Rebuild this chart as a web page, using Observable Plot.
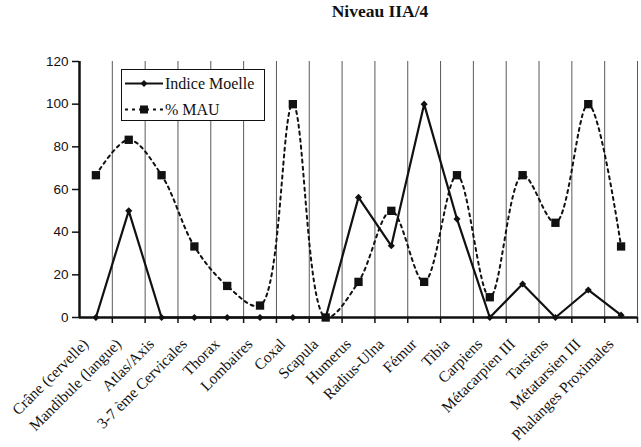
<!DOCTYPE html>
<html><head><meta charset="utf-8">
<script src="https://cdn.jsdelivr.net/npm/d3@7"></script>
<script src="https://cdn.jsdelivr.net/npm/@observablehq/plot@0.6"></script>
<style>
body{margin:0;background:#fff;}
#wrap{position:relative;width:641px;height:447px;overflow:hidden;}
#title{height:24px;width:760px;text-align:center;font:bold 17.5px 'Liberation Serif',serif;line-height:20px;padding-top:1px;box-sizing:border-box;color:#111;}
#legend{position:absolute;left:0;top:0;pointer-events:none;}
.lgtext{position:absolute;left:165px;font:16px 'Liberation Serif',serif;line-height:16px;color:#111;white-space:nowrap;}
</style></head>
<body><div id="wrap"><div id="title">Niveau IIA/4</div><div id="chart"></div></div>
<script>
const categories = ["Crâne (cervelle)", "Mandibule (langue)", "Atlas/Axis", "3-7 ème Cervicales", "Thorax", "Lombaires", "Coxal", "Scapula", "Humerus", "Radius-Ulna", "Fémur", "Tibia", "Carpiens", "Métacarpien III", "Tarsiens", "Métatarsien III", "Phalanges Proximales"];
const indiceMoelle = [0, 50, 0, 0, 0, 0, 0, 0, 56.3, 33.6, 100, 46.2, 0, 15.7, 0, 12.9, 1.1];
const mau = [66.7, 83.3, 66.7, 33.3, 14.8, 5.6, 100, 0, 16.7, 50, 16.7, 66.7, 9.5, 66.7, 44.4, 100, 33.3];
const yTicks = [0, 20, 40, 60, 80, 100, 120];
const seriesNames = ["Indice Moelle", "% MAU"];

const idx = categories.map((_, i) => i);
const boundaries = categories.map((_, i) => i + 0.5);
const tableM = idx.map(i => ({i, v: indiceMoelle[i]}));
const tableU = idx.map(i => ({i, v: mau[i]}));

const serif = "'Liberation Serif', serif";
const sans = "'Liberation Sans', Arial, sans-serif";

const plot = Plot.plot({
  width: 641,
  height: 423,
  marginLeft: 79,
  marginRight: 4,
  marginTop: 37,
  marginBottom: 130,
  x: {type: "linear", domain: [-0.5, categories.length - 0.5]},
  y: {domain: [0, 120]},
  style: {background: "white", color: "#111"},
  marks: [
    Plot.ruleX(boundaries, {stroke: "#5a5a5a", strokeWidth: 1}),
    Plot.axisY({ticks: yTicks, tickSize: 7, tickPadding: 4, fontSize: 13.5, fontFamily: sans, label: null, stroke: "#111", strokeWidth: 1.5}),
    Plot.axisX({ticks: boundaries, tickSize: 6, tickFormat: () => "", label: null, strokeWidth: 1.5}),
    Plot.axisX({ticks: idx, tickSize: 0, tickPadding: 24, dx: -10, tickRotate: -45, tickFormat: i => categories[i], fontSize: 15.5, fontFamily: serif, label: null}),
    Plot.line(tableU, {x: "i", y: "v", curve: "catmull-rom", stroke: "#111", strokeWidth: 2, strokeDasharray: "3,4"}),
    Plot.line(tableM, {x: "i", y: "v", stroke: "#111", strokeWidth: 2.2}),
    Plot.ruleX([-0.5], {stroke: "#111", strokeWidth: 2.5}),
    Plot.ruleY([0], {stroke: "#111", strokeWidth: 2.5}),
    Plot.dot(tableM, {x: "i", y: "v", symbol: "diamond2", r: 3.2, fill: "#111", stroke: "none"}),
    Plot.dot(tableU, {x: "i", y: "v", symbol: "square", r: 4.7, fill: "#111", stroke: "none"})
  ]
});
document.getElementById("chart").appendChild(plot);

// legend overlay (box and swatches)
const lg = d3.select("#wrap").append("svg").attr("id", "legend").attr("width", 641).attr("height", 447);
lg.append("rect").attr("x", 121.5).attr("y", 69.5).attr("width", 143).attr("height", 51).attr("fill", "white").attr("stroke", "#111").attr("stroke-width", 1);
lg.append("line").attr("x1", 125).attr("x2", 163).attr("y1", 83.5).attr("y2", 83.5).attr("stroke", "#111").attr("stroke-width", 2.2);
lg.append("path").attr("d", d3.symbol(d3.symbolDiamond2, 32)()).attr("transform", "translate(144,83.5)").attr("fill", "#111");
lg.append("line").attr("x1", 125).attr("x2", 163).attr("y1", 109.5).attr("y2", 109.5).attr("stroke", "#111").attr("stroke-width", 2).attr("stroke-dasharray", "3,4");
lg.append("rect").attr("x", 140).attr("y", 105.5).attr("width", 8).attr("height", 8).attr("fill", "#111");
// legend labels
const wrap = document.getElementById("wrap");
[[seriesNames[0], 75.5], [seriesNames[1], 101.5]].forEach(([t, top]) => {
  const d = document.createElement("div");
  d.className = "lgtext";
  d.style.top = top + "px";
  d.textContent = t;
  wrap.appendChild(d);
});
</script></body></html>
